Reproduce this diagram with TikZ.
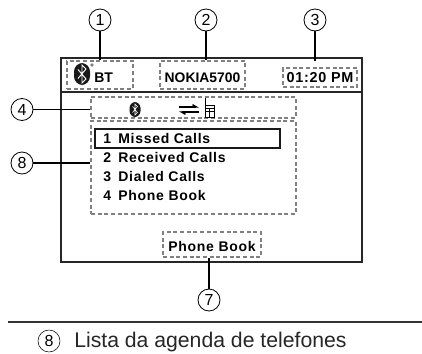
\documentclass[tikz,border=0pt]{standalone}
\usepackage{fontspec}
\setmainfont{Liberation Sans}
\newfontfamily\spaced[LetterSpace=5]{Liberation Sans}
\usetikzlibrary{arrows.meta}
\tikzset{
screen/.style={draw=black!85,line width=0.9pt},
dashbox/.style={draw=black!50,line width=0.8pt,dash pattern=on 3pt off 2pt,inner sep=0pt},
callout/.style={circle,draw=black,line width=0.6pt,minimum size=16.5pt,inner sep=0pt,font=\fontsize{12}{12}\selectfont},
leader/.style={draw=black,line width=0.9pt},
menutext/.style={anchor=west,inner sep=0pt,font=\fontsize{10.5}{10}\selectfont\spaced\bfseries},
halfarrow/.style={line width=1pt,-{Straight Barb[left,length=3pt,width=3.5pt]}}
}
\begin{document}
\begin{tikzpicture}[x=0.75pt,y=-0.75pt]
\useasboundingbox (0,0) rectangle (422,354);
% the phone screen
\draw[screen] (61,58) rectangle (362,262);
\draw[screen] (61,92) -- (362,92);
% the dashed areas
\node[dashbox,minimum width=49.5pt,minimum height=21pt] (bt) at (100,75) {};
\node[dashbox,minimum width=63.75pt,minimum height=21pt] (name) at (202.5,75) {};
\node[dashbox,minimum width=55.5pt,minimum height=14.25pt] (time) at (320,77.5) {};
\node[dashbox,minimum width=153.75pt,minimum height=15.75pt] (status) at (193.5,107.5) {};
\node[dashbox,minimum width=153.75pt,minimum height=69.75pt] (list) at (193.5,167.5) {};
\node[dashbox,minimum width=73.5pt,minimum height=18.75pt] (soft) at (212,244.5) {};
% header texts
\fill[black!90,rounded corners=6.5] (74,63) rectangle (90,85);
\draw[white,line width=0.7pt] (78,69.5) -- (86,79) -- (82,83) -- (82,65) -- (86,69) -- (78,78.5);
\node[circle,draw,line width=0.3pt,inner sep=0.7pt] (dot) at (92,65) {};
\node[anchor=west,inner sep=0pt,font=\fontsize{10.5}{10}\selectfont\bfseries] (bttext) at (94,78) {BT};
\node[inner sep=0pt,font=\fontsize{10.4}{10}\selectfont\bfseries] (nametext) at (202.5,77.5) {NOKIA5700};
\node[inner sep=0pt,font=\fontsize{10.8}{10}\selectfont\spaced\bfseries] (timetext) at (320,78) {01:20 PM};
% status icons
\fill[black!90,rounded corners=4.5] (129.5,102) rectangle (140.5,117);
\draw[white,line width=0.4pt] (132.5,106.5) -- (137.5,112.5) -- (135,115) -- (135,104) -- (137.5,106.5) -- (132.5,112.5);
\draw[halfarrow] (179,107) -- (199,107);
\draw[halfarrow] (199,112) -- (179,112);
\draw[line width=0.7pt] (205,105) rectangle (214,117);
\draw[line width=0.7pt] (205,98) -- (205,105) (205,111) -- (214,111) (209.5,108) -- (209.5,117) (205,108) -- (214,108);
% the menu
\node[draw=black!90,line width=0.9pt,minimum width=138.75pt,minimum height=14.25pt,inner sep=0pt] (sel) at (187.5,138.5) {};
\foreach \n/\t/\y in {1/Missed Calls/138.5,2/Received Calls/157.5,3/Dialed Calls/176.5,4/Phone Book/195.5}
  \node[menutext] (row\n) at (103,\y) {\n\hspace{5.5pt}\t};
\node[inner sep=0pt,font=\fontsize{10.5}{10}\selectfont\spaced\bfseries] (softtext) at (212,246) {Phone Book};
% the callouts
\node[callout] (c1) at (100,20) {1};
\node[callout] (c2) at (206,20) {2};
\node[callout] (c3) at (315,20) {3};
\node[callout] (c4) at (22,109.5) {4};
\node[callout] (c8) at (22,163) {8};
\node[callout] (c7) at (209,300) {7};
\draw[leader] (c1) -- (bt.north -| c1);
\draw[leader] (c2) -- (name.north -| c2);
\coordinate (c3end) at (315,61);
\draw[leader] (c3) -- (c3end);
\draw[leader] (c4) -- (status.west |- c4);
\draw[leader] (c8) -- (list.west |- c8);
\draw[leader] (c7) -- (soft.south -| c7);
% footer
\coordinate (ruleA) at (8,322);
\coordinate (ruleB) at (422,322);
\draw[black!80,line width=1.1pt] (ruleA) -- (ruleB);
\node[callout,line width=0.4pt] (c8b) at (49,341) {8};
\node[anchor=west,inner sep=0pt,font=\fontsize{15.9}{16}\selectfont,text=black!85] (foot) at (74,342) {Lista da agenda de telefones};
\end{tikzpicture}
\end{document}
